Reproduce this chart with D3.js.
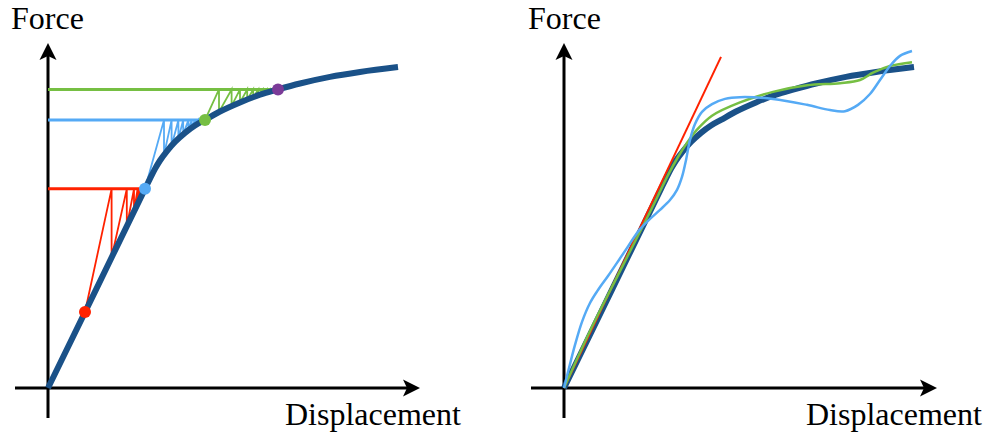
<!DOCTYPE html>
<html><head><meta charset="utf-8">
<script src="https://cdn.jsdelivr.net/npm/d3@7"></script>
<style>html,body{margin:0;padding:0;background:#fff;}svg{display:block;}</style>
</head><body>
<svg id="chart" width="984" height="436"></svg>
<script>
// ---------- DATA (displacement, force in arbitrary units 0..100) ----------
const curveDisp  = [0, 12, 24.25, 25.5, 26.75, 28, 29.75, 31.75, 34.25, 36.75, 39.25, 43, 48, 53, 57.5, 63, 70.5, 78, 87.5];
const curveForce = [0, 28.1, 56.9, 59.8, 62.6, 65.0, 67.7, 70.3, 72.9, 75.0, 76.6, 79.0, 81.6, 83.8, 85.3, 87.0, 88.9, 90.3, 91.7];

// load levels (horizontal lines) and iteration states of each load step
const stepNames  = ["red", "blue", "green"];
const stepTarget = [56.9, 76.6, 85.3];
const redIterDisp    = [9.25, 15.9, 19.7, 21.5, 22.4, 22.9, 23.25, 23.6];
const redIterForce   = [21.7, 37.3, 46.2, 50.4, 52.5, 53.7, 54.5, 55.3];
const blueIterDisp   = [24.25, 29, 30.9, 32.6, 33.8, 35.1, 35.9, 36.75, 37.6];
const blueIterForce  = [56.9, 66.6, 69.2, 71.2, 72.4, 73.6, 74.3, 75.0, 75.6];
const greenIterDisp  = [39.25, 42.75, 45.9, 48, 49.8, 51.3, 52.6, 53.7, 54.7, 55.5];
const greenIterForce = [76.6, 78.9, 80.6, 81.6, 82.4, 83.0, 83.6, 84.0, 84.4, 84.7];

// converged points (dots)
const dotNames = ["red", "blue", "green", "purple"];
const dotDisp  = [9.25, 24.25, 39.25, 57.5];
const dotForce = [21.7, 56.9, 76.6, 85.3];

// right panel: approximations
const tangentDisp  = [0, 39.25];
const tangentForce = [0, 94.6];
const blueFitDisp  = [0, 1.25, 2.75, 4.5, 6.5, 8.5, 11, 14.75, 19, 21.5, 24, 26.5, 28.25, 29.5, 30.5, 31.5, 32.75, 34.5, 37, 40.25, 44, 52.25, 60.75, 66.5, 70.25, 73.5, 76.5, 79, 81.5, 84, 87];
const blueFitForce = [0, 5.7, 12.3, 18.9, 24.3, 28, 32, 38.3, 45.4, 48.3, 50.9, 53.7, 56.6, 60.3, 65.1, 70.9, 75.4, 78.9, 81.1, 82.6, 83.1, 82.6, 80.9, 79.4, 79.1, 80.9, 84, 88, 92, 94.9, 96.3];
const greenFitDisp  = [0, 6.5, 14, 21.5, 26, 28.5, 30.5, 33.25, 37, 44, 52.25, 60.75, 69, 74, 77.25, 81.5, 87];
const greenFitForce = [0, 16.3, 33.4, 50.3, 60.8, 66, 69.6, 73.8, 77.8, 81.6, 84.6, 86.5, 87.1, 88, 90.1, 92, 93.1];

const axisLabelX = "Displacement";
const axisLabelY = "Force";

// ---------- STYLE ----------
const C = {main:"#1a5188", red:"#ff2200", blue:"#55aaf5", green:"#76bf43", purple:"#7b3b98"};
const FONT = "Liberation Serif, Times New Roman, serif";

const svg = d3.select("#chart");
const y = d3.scaleLinear().domain([0, 100]).range([388, 38]);
const xL = d3.scaleLinear().domain([0, 100]).range([48, 448]);
const xR = d3.scaleLinear().domain([0, 100]).range([564, 964]);

const zip = (a, b) => a.map((v, i) => [v, b[i]]);

function drawAxes(g, x, xStart, xTip, labelXPos, labelYPos) {
  const x0 = x(0), y0 = y(0);
  g.append("line").attr("x1", xStart).attr("x2", xTip - 12).attr("y1", y0).attr("y2", y0)
    .attr("stroke", "#000").attr("stroke-width", 3);
  g.append("line").attr("x1", x0).attr("x2", x0).attr("y1", y0 + 30).attr("y2", 43 + 12)
    .attr("stroke", "#000").attr("stroke-width", 3);
  const head = "M0,0 L-17,-8.5 L-13,0 L-17,8.5 Z";
  g.append("path").attr("d", head).attr("fill", "#000")
    .attr("transform", `translate(${xTip},${y0})`);
  g.append("path").attr("d", head).attr("fill", "#000")
    .attr("transform", `translate(${x0},43) rotate(-90)`);
  g.append("text").attr("x", labelYPos[0]).attr("y", labelYPos[1]).text(axisLabelY)
    .attr("font-family", FONT).attr("font-size", 32).attr("fill", "#000");
  g.append("text").attr("x", labelXPos[0]).attr("y", labelXPos[1]).text(axisLabelX)
    .attr("font-family", FONT).attr("font-size", 32).attr("fill", "#000");
}

// ---------- LEFT PANEL ----------
const gL = svg.append("g");
drawAxes(gL, xL, 15, 420, [285, 425], [11, 29]);

const lineL = d3.line().x(d => xL(d[0])).y(d => y(d[1]));
const iters = [
  [redIterDisp, redIterForce],
  [blueIterDisp, blueIterForce],
  [greenIterDisp, greenIterForce]
];
stepNames.forEach((name, i) => {
  const [ix, iF] = iters[i];
  const T = stepTarget[i];
  const endX = dotDisp[i + 1];
  gL.append("path").attr("d", lineL([[0, T], [endX, T]]))
    .attr("fill", "none").attr("stroke", C[name]).attr("stroke-width", 3);
  const pts = [[ix[0], iF[0]]];
  for (let k = 1; k < ix.length; k++) { pts.push([ix[k], T]); pts.push([ix[k], iF[k]]); }
  gL.append("path").attr("d", lineL(pts))
    .attr("fill", "none").attr("stroke", C[name]).attr("stroke-width", 1.8).attr("stroke-linejoin", "miter");
});

const curveL = d3.line().x(d => xL(d[0])).y(d => y(d[1])).curve(d3.curveMonotoneX);
gL.append("path").attr("d", curveL(zip(curveDisp, curveForce)))
  .attr("fill", "none").attr("stroke", C.main).attr("stroke-width", 6).attr("stroke-linecap", "butt");

gL.selectAll("circle").data(dotNames).join("circle")
  .attr("cx", (d, i) => xL(dotDisp[i])).attr("cy", (d, i) => y(dotForce[i]))
  .attr("r", 6).attr("fill", d => C[d]);

// ---------- RIGHT PANEL ----------
const gR = svg.append("g");
drawAxes(gR, xR, 531, 937, [806, 425], [528, 29]);

const curveR = d3.line().x(d => xR(d[0])).y(d => y(d[1])).curve(d3.curveMonotoneX);
const smoothR = d3.line().x(d => xR(d[0])).y(d => y(d[1])).curve(d3.curveCatmullRom.alpha(0.5));
gR.append("path").attr("d", curveR(zip(curveDisp, curveForce)))
  .attr("fill", "none").attr("stroke", C.main).attr("stroke-width", 6);
gR.append("path").attr("d", smoothR(zip(tangentDisp, tangentForce)))
  .attr("fill", "none").attr("stroke", C.red).attr("stroke-width", 2);
gR.append("path").attr("d", smoothR(zip(greenFitDisp, greenFitForce)))
  .attr("fill", "none").attr("stroke", C.green).attr("stroke-width", 2.5);
gR.append("path").attr("d", smoothR(zip(blueFitDisp, blueFitForce)))
  .attr("fill", "none").attr("stroke", C.blue).attr("stroke-width", 2.5);
</script>
</body></html>
